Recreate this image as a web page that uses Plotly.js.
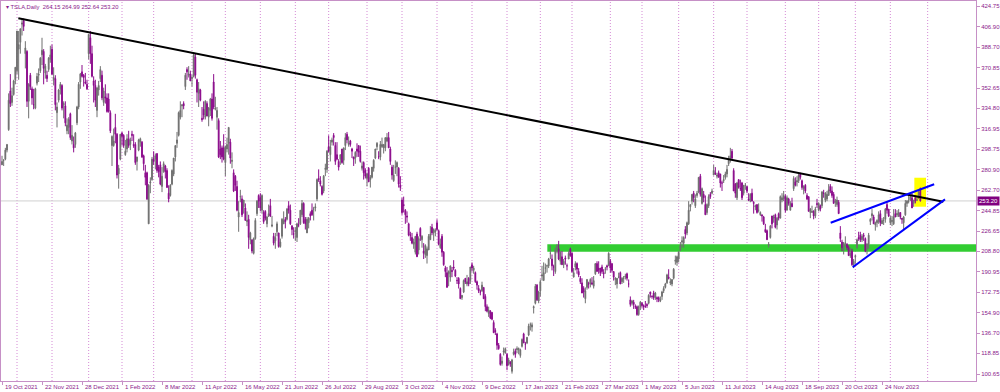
<!DOCTYPE html>
<html>
<head>
<meta charset="utf-8">
<script src="https://cdn.plot.ly/plotly-3.0.1.min.js"></script>
<style>html,body{margin:0;padding:0;background:#fff;}#chart{width:1000px;height:392px;}</style>
</head>
<body>
<div id="chart"></div>
<script>
// Daily TSLA bars, 19 Oct 2021 .. 28 Dec 2023 (one entry per trading day, index = bar number)
const open = [
285,289,290,298,316,350,340,347,360,
368,387,393,409,412,383,385,341,364,352,338,335,357,364,368,382,385,366,364,369,378,
387,360,361,331,342,352,355,338,337,315,318,330,306,303,303,322,336,358,367,364,358,356,
383,397,383,359,355,333,351,361,364,340,345,344,343,331,302,302,318,312,277,290,
313,311,294,299,308,303,312,303,303,288,298,305,305,293,278,278,233,269,272,
290,290,295,283,285,266,279,284,280,260,258,268,277,292,304,311,327,337,339,354,369,364,365,
361,363,380,360,348,351,326,334,327,339,327,333,343,358,334,327,324,299,300,300,
287,299,304,305,288,278,275,266,239,257,255,248,247,235,237,219,219,207,220,242,258,
256,245,243,244,233,240,249,231,222,218,226,225,213,222,233,237,237,249,245,231,224,
226,221,232,233,241,251,237,225,234,242,245,246,247,255,273,271,266,262,281,281,
301,294,305,311,302,294,288,290,299,289,302,312,303,306,299,292,291,299,302,297,282,287,280,
273,282,272,274,282,291,301,292,292,301,300,300,306,309,299,283,271,283,283,282,267,
254,250,245,240,233,223,221,215,208,224,210,229,219,209,206,205,210,219,230,225,226,
234,227,212,222,208,194,190,189,186,192,195,192,183,185,176,168,173,185,180,185,183,
197,192,190,182,176,173,174,177,169,160,154,156,155,146,139,136,126,118,110,120,119,
118,109,111,103,118,121,122,122,117,125,136,127,128,135,144,142,159,163,179,165,
174,187,183,194,196,196,207,202,195,191,211,211,200,204,197,203,196,202,211,
207,186,195,198,191,185,181,176,167,177,180,180,181,178,189,198,194,194,195,190,193,196,196,
200,198,191,184,180,186,190,182,185,186,189,180,166,163,164,160,160,153,160,
163,161,160,162,163,173,169,172,168,168,168,165,169,174,177,181,186,181,180,185,200,199,
202,210,217,216,228,225,233,248,253,260,249,258,261,275,251,259,250,243,249,259,260,
276,278,275,278,277,269,271,274,277,286,290,297,280,268,256,272,264,269,260,267,
266,255,253,260,252,248,250,245,241,241,239,228,227,214,221,240,238,241,232,242,238,254,255,
257,245,255,245,251,264,270,270,271,277,271,264,267,258,257,243,243,244,240,251,
245,249,249,260,254,255,258,266,262,259,252,250,252,225,217,210,216,215,212,205,209,197,
204,212,221,223,219,223,220,211,215,235,240,239,232,234,235,242,233,236,237,250,246,
234,235,233,242,241,240,243,238,234,241,251,253,254,256,251,256,254,258,264.15
];
const high = [
293,290,300,303,348,365,353,360,371,
403,403,405,414,414,394,386,357,366,354,352,353,366,370,380,397,387,374,368,380,390,
391,371,364,340,352,358,356,341,341,326,327,331,320,310,314,337,358,366,373,365,366,360,
400,403,390,363,360,353,359,372,368,353,356,348,348,333,311,317,330,313,285,312,
314,312,307,312,315,309,315,312,305,292,308,309,306,294,285,279,268,274,292,
297,295,295,285,288,283,288,285,282,267,268,281,291,302,314,332,341,338,341,366,371,372,368,
364,384,383,361,358,352,336,341,342,341,336,344,348,365,345,336,326,306,302,312,
302,309,318,308,296,281,276,271,253,263,258,254,251,244,241,226,219,221,238,254,259,
260,259,245,245,240,250,255,240,225,225,235,225,220,238,244,239,247,253,250,232,230,
230,234,238,245,254,252,239,239,239,244,251,248,251,273,281,275,267,276,286,298,
311,307,309,313,305,305,290,294,299,300,313,314,310,307,300,292,297,304,302,302,288,288,282,
278,283,276,283,290,299,305,297,306,309,303,309,313,314,301,285,285,289,288,283,275,
256,257,246,244,234,226,225,220,222,226,222,230,223,216,215,213,224,231,233,229,229,
237,228,220,224,209,196,195,192,196,195,201,193,186,186,177,170,184,185,188,186,195,
199,196,191,183,179,175,182,177,171,162,160,157,155,148,141,137,128,119,116,124,124,
119,115,112,114,123,123,125,124,123,132,137,129,133,145,146,146,161,180,180,174,
184,196,199,198,197,203,214,206,197,212,215,218,209,209,202,205,198,209,212,
208,194,200,199,194,187,185,178,177,184,182,185,186,187,198,200,200,194,197,193,195,197,208,
202,198,191,186,185,190,191,186,187,189,190,184,169,166,166,162,161,161,165,
164,162,165,163,171,173,170,174,173,169,169,169,174,178,181,189,193,185,184,194,205,205,
209,217,222,222,231,235,253,250,259,262,259,262,274,277,265,262,258,251,259,261,264,
285,283,278,280,277,271,276,279,285,293,300,299,282,269,270,272,272,270,267,269,
266,260,260,264,253,250,250,251,244,241,240,233,228,217,232,240,241,242,239,243,258,260,262,
259,258,256,253,256,275,274,275,277,278,272,267,268,260,257,247,249,245,248,255,
252,250,262,263,261,262,268,268,266,261,255,257,254,231,219,217,222,216,214,212,211,202,
205,220,226,226,224,225,221,216,225,238,246,241,235,237,244,245,238,239,247,252,246,
240,240,246,246,245,246,243,238,240,254,254,259,258,260,254,258,258,262,264.99
];
const low = [
285,284,289,296,315,336,337,346,356,
365,360,383,399,403,370,336,326,351,338,334,334,355,358,366,373,356,361,358,367,375,
364,355,333,318,340,347,333,326,319,312,312,307,303,296,300,320,334,352,362,354,356,351,
378,374,362,340,336,327,346,358,342,337,339,331,331,313,284,301,304,273,264,289,
302,300,293,296,300,298,306,300,285,280,297,301,291,280,267,254,233,260,271,
285,281,278,274,267,261,278,273,265,252,257,267,275,288,300,310,325,327,334,351,360,362,359,
354,362,361,340,336,341,323,325,325,328,319,328,324,334,333,316,291,290,287,289,
275,296,294,286,282,261,262,244,226,252,239,242,236,231,211,215,207,206,219,240,247,
244,242,233,236,230,239,239,230,214,211,222,212,212,220,233,229,236,242,232,223,220,
218,217,230,232,239,233,228,225,229,236,240,236,244,253,270,266,258,260,275,278,
296,288,302,302,285,289,280,285,286,285,298,304,301,301,291,284,286,292,292,287,280,272,273,
266,270,265,273,279,290,298,290,289,300,295,297,305,300,285,272,270,277,275,265,262,
241,243,233,234,222,218,215,211,206,204,206,218,212,202,203,198,210,219,223,218,222,
227,214,211,204,196,186,177,178,182,186,192,186,180,176,167,166,172,180,178,178,180,
191,189,181,175,172,170,173,167,156,155,151,149,148,137,135,122,122,108,108,117,119,
104,108,107,101,117,115,119,118,115,124,128,122,127,134,139,138,154,162,165,163,
169,183,183,189,190,194,202,192,187,189,207,201,197,197,194,197,192,202,204,
190,186,192,189,186,180,172,168,163,175,176,177,179,176,188,191,189,187,189,185,189,192,196,
190,190,183,179,176,185,180,180,181,184,183,177,160,161,158,158,152,152,157,
159,157,159,159,162,168,167,166,166,164,164,164,166,172,176,180,184,179,178,184,197,196,
199,209,212,212,220,223,232,244,250,252,247,256,260,257,250,252,241,241,247,255,259,
276,276,273,274,265,262,269,272,274,284,287,289,262,256,254,264,262,254,258,263,
260,253,252,253,242,245,242,243,240,235,232,225,219,212,220,229,234,229,228,236,238,252,253,
243,245,249,245,248,262,266,266,269,272,263,259,260,254,244,238,243,237,238,247,
244,244,247,256,252,253,258,260,256,251,248,248,242,217,209,206,213,210,205,203,196,194,
198,211,218,217,217,218,208,206,211,232,236,233,227,230,233,231,233,232,234,242,239,
232,231,232,239,239,239,237,233,228,240,248,251,253,247,248,251,253,255,252.64
];
const close = [
288,289,298,303,342,339,346,359,371,
403,391,405,410,407,388,341,356,354,344,338,352,363,365,379,386,370,372,361,379,382,
365,362,338,336,351,356,335,339,322,320,325,309,311,300,313,336,356,365,363,362,357,352,
400,383,363,355,342,353,355,369,344,350,344,332,332,315,310,306,312,276,282,312,
310,302,297,308,302,307,311,302,287,292,307,308,292,286,274,255,267,270,290,
288,293,280,279,268,275,286,279,265,255,267,280,291,302,307,331,333,338,337,364,367,365,359,
362,382,364,349,352,342,325,329,341,328,335,343,326,336,335,333,292,294,292,290,
301,303,318,291,289,262,267,245,243,257,241,254,236,236,221,225,209,220,236,253,253,
247,258,235,238,239,242,240,232,216,221,233,213,217,237,236,235,246,245,233,228,224,
227,233,232,245,251,234,233,237,238,240,241,246,248,272,272,268,259,275,282,297,
297,301,307,309,288,290,283,294,287,300,309,307,304,303,297,290,296,297,296,288,284,278,275,
277,270,274,283,289,299,304,292,303,303,303,309,309,300,288,276,276,283,287,268,265,
243,249,241,239,223,223,216,217,222,204,220,222,222,207,214,211,222,224,225,228,227,
228,215,215,208,197,191,177,191,196,191,194,187,183,180,167,170,183,182,182,180,195,
194,194,182,179,174,173,179,167,160,156,157,150,149,137,138,126,123,109,112,121,123,
108,113,110,113,120,118,123,123,122,131,128,127,133,143,144,144,160,178,166,173,
182,188,190,194,196,202,207,196,195,210,214,202,208,197,200,202,196,207,205,
191,190,198,193,188,182,172,173,174,184,180,184,180,183,198,191,192,190,191,189,193,195,207,
194,192,186,185,185,186,180,185,185,187,185,180,162,165,162,160,153,160,164,
161,160,160,161,170,171,169,168,172,167,166,166,173,176,180,188,185,182,184,193,201,204,
208,214,218,221,224,234,245,250,259,256,255,260,274,259,264,256,241,250,257,257,262,
280,277,276,274,269,269,272,277,281,290,293,291,262,260,269,265,264,256,267,267,
262,254,259,253,251,249,243,245,243,240,233,226,219,215,231,233,239,230,238,238,257,256,258,
245,256,251,251,248,273,267,271,276,274,265,266,262,255,244,246,244,240,246,250,
251,246,261,260,260,259,263,262,258,251,253,254,242,220,212,216,216,212,205,207,197,200,
205,219,220,219,222,222,209,215,223,237,242,233,234,236,241,234,236,236,246,245,240,
238,236,239,239,242,243,239,237,239,251,253,253,257,247,254,253,254,261,253.20
];

// Time-axis labels (every 24 bars) and their bar numbers
const dateLabelBars = [0,24,48,72,96,120,144,168,192,216,240,264,288,312,336,360,384,408,432,456,480,504,528];
const dateLabels = ["19 Oct 2021","22 Nov 2021","28 Dec 2021","1 Feb 2022","8 Mar 2022","11 Apr 2022","16 May 2022","21 Jun 2022","26 Jul 2022","29 Aug 2022","3 Oct 2022","4 Nov 2022","9 Dec 2022","17 Jan 2023","21 Feb 2023","27 Mar 2023","1 May 2023","5 Jun 2023","11 Jul 2023","14 Aug 2023","18 Sep 2023","20 Oct 2023","24 Nov 2023"];
// Month separators (bar number of first trading day of each month)
const monthStartBars = [9,30,52,72,91,114,134,155,176,196,219,240,261,282,303,323,342,365,384,406,427,447,470,490,512,533,555.4];
// Price scale labels
const priceLevels = [424.75,406.90,388.70,370.85,352.65,334.80,316.95,298.75,280.90,262.70,244.85,226.65,208.80,190.95,172.75,154.90,136.70,118.85,100.65];
const priceLabels = ["424.75","406.90","388.70","370.85","352.65","334.80","316.95","298.75","280.90","262.70","244.85","226.65","208.80","190.95","172.75","154.90","136.70","118.85","100.65"];

// Drawn objects (bar number, price)
const downTrend = {x0: 9.8, y0: 414.2, x1: 564.8, y1: 252.5};
const wedgeUpper = {x0: 497.2, y0: 234.0, x1: 559.3, y1: 267.9};
const wedgeLower = {x0: 510.4, y0: 194.7, x1: 565.8, y1: 254.6};
const supportZone = {x0: 327.2, y0: 208.5, y1: 215.0};
const highlightBox = {x0: 547.4, x1: 554.4, y0: 248.1, y1: 273.65};
const lastPrice = 253.20;
const title = "\u25BE TSLA,Daily  264.15 264.99 252.64 253.20";

const bars = open.map((_, i) => i);
const PURPLE = '#8b1a8b';
const FRAME = '#c690c6';
const FONT = 'Liberation Sans, Arial, sans-serif';
const FS = 6.0;

const shapes = [];
monthStartBars.forEach(b => shapes.push({type:'line', xref:'x', yref:'paper', x0:b, x1:b, y0:0, y1:1,
  line:{color:'#d58ad5', width:1, dash:'1px,2px'}, layer:'below'}));
shapes.push({type:'rect', xref:'x', yref:'y', x0:supportZone.x0, x1:584.4, y0:supportZone.y0, y1:supportZone.y1,
  fillcolor:'#32cd32', line:{width:0}, layer:'below'});
shapes.push({type:'rect', xref:'x', yref:'y', x0:highlightBox.x0, x1:highlightBox.x1, y0:highlightBox.y0, y1:highlightBox.y1,
  fillcolor:'#ffff00', line:{width:0}, layer:'below'});
shapes.push({type:'line', xref:'paper', yref:'y', x0:0, x1:1, y0:lastPrice, y1:lastPrice,
  line:{color:'#d0d0d0', width:1}, layer:'below'});
shapes.push({type:'line', xref:'x', yref:'y', ...downTrend, line:{color:'#000000', width:2}, layer:'above'});
shapes.push({type:'line', xref:'x', yref:'y', ...wedgeUpper, line:{color:'#0000ff', width:2}, layer:'above'});
shapes.push({type:'line', xref:'x', yref:'y', ...wedgeLower, line:{color:'#0000ff', width:2}, layer:'above'});

const trace = {
  type:'candlestick', x:bars, open:open, high:high, low:low, close:close,
  increasing:{line:{color:'#6f6f6f', width:1}, fillcolor:'#6f6f6f'},
  decreasing:{line:{color:'#8b0a8b', width:1}, fillcolor:'#8b0a8b'},
  whiskerwidth:0, hoverinfo:'skip', showlegend:false
};

const annotations = dateLabels.map((t, k) => ({
  xref:'x', yref:'paper', x:dateLabelBars[k], y:0, xanchor:'left', yanchor:'top', yshift:-1, xshift:1,
  showarrow:false, text:t, font:{family:FONT, size:FS, color:PURPLE}
}));
annotations.push({xref:'paper', yref:'paper', x:0.003, y:0.997, xanchor:'left', yanchor:'top', showarrow:false,
  text:title, font:{family:FONT, size:5.8, color:PURPLE}});
annotations.push({xref:'paper', yref:'y', x:1, y:lastPrice, xanchor:'left', yanchor:'middle', showarrow:false, xshift:1,
  text:lastPrice.toFixed(2), font:{family:FONT, size:FS, color:'#ffffff'}, bgcolor:'#800080', borderpad:1});

const layout = {
  width:1000, height:392,
  margin:{l:1, r:24, t:1, b:11, pad:0},
  paper_bgcolor:'#ffffff', plot_bgcolor:'#ffffff',
  font:{family:FONT, size:FS, color:PURPLE},
  showlegend:false,
  xaxis:{range:[-0.6,584.4], rangeslider:{visible:false}, showgrid:false, zeroline:false,
    tickmode:'array', tickvals:dateLabelBars, showticklabels:false, ticks:'outside', ticklen:3, tickwidth:1, tickcolor:FRAME,
    showline:true, linecolor:FRAME, linewidth:1, mirror:true, fixedrange:true},
  yaxis:{range:[94.48,429.42], side:'right', showgrid:false, zeroline:false,
    tickmode:'array', tickvals:priceLevels, ticktext:priceLabels, ticks:'outside', ticklen:3, tickwidth:1, tickcolor:FRAME,
    tickfont:{family:FONT, size:FS, color:PURPLE},
    showline:true, linecolor:FRAME, linewidth:1, mirror:true, fixedrange:true},
  shapes:shapes,
  annotations:annotations,
  hovermode:false
};

Plotly.newPlot('chart', [trace], layout, {staticPlot:true, displayModeBar:false});
</script>
</body>
</html>
